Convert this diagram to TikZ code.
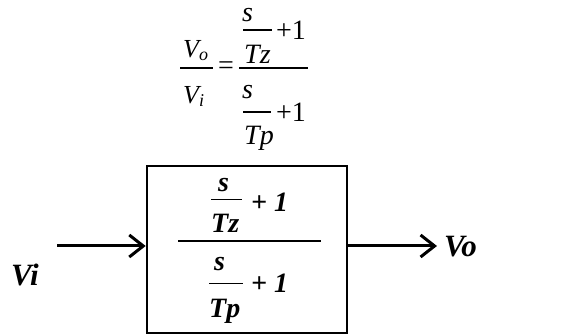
\documentclass[tikz,border=0pt]{standalone}
\usepackage{fontspec}
\setmainfont{Liberation Serif}
\usetikzlibrary{arrows.meta}
\begin{document}
\begin{tikzpicture}[x=1pt,y=-1pt,
  eqv/.style={inner sep=0pt, anchor=base west, font=\fontsize{26}{28}\selectfont\itshape},
  eqt/.style={inner sep=0pt, anchor=base west, font=\fontsize{28}{30}\selectfont\itshape},
  eqn/.style={inner sep=0pt, anchor=base west, font=\fontsize{28}{30}\selectfont},
  bt/.style={inner sep=0pt, anchor=base west, font=\fontsize{28}{30}\selectfont\bfseries\itshape},
  lt/.style={inner sep=0pt, anchor=base west, font=\fontsize{31}{33}\selectfont\bfseries\itshape},
  bar/.style={line width=1.1pt},
  sbar/.style={line width=1pt},
  mbar/.style={line width=1.8pt},
  arr/.style={line width=3pt, -{Straight Barb[length=14pt,width=22pt]}},
  blkstyle/.style={draw, line width=2.6pt, minimum width=200pt, minimum height=167pt, inner sep=0pt}]
\useasboundingbox (0,0) rectangle (574,336);
% top equation
\node[eqv] (vo) at (183,58) {V\raisebox{-3pt}{\fontsize{18}{18}\selectfont o}};
\node[eqv] (vi) at (183,104) {V\raisebox{-3pt}{\fontsize{18}{18}\selectfont i}};
\draw[bar] (180,68) -- (213,68);
\node[eqn, anchor=center] (eq) at (226,68) {=};
\draw[bar] (239,68) -- (308,68);
\node[eqt] (s1) at (242,22) {s};
\draw[bar] (243,30) -- (272,30);
\node[eqn] (p1) at (276,40) {+1};
\node[eqt] (tz) at (244,64) {Tz};
\node[eqt] (s2) at (242,99) {s};
\draw[bar] (243,112) -- (271,112);
\node[eqn] (p2) at (276,122) {+1};
\node[eqt] (tp) at (244,145) {Tp};
% block
\node[blkstyle] (blk) at (247,249.5) {};
\node[bt] (bs1) at (218,192) {s};
\draw[sbar] (211,200) -- (242,200);
\node[bt] (bp1) at (251,212) {+ 1};
\node[bt] (btz) at (211,233) {Tz};
\draw[mbar] (178,241) -- (321,241);
\node[bt] (bs2) at (214,271) {s};
\draw[sbar] (209,284) -- (243,284);
\node[bt] (bp2) at (251,293) {+ 1};
\node[bt] (btp) at (209,318) {Tp};
% signals
\node[lt] (lvi) at (11,286) {Vi};
\node[lt] (lvo) at (444,257) {Vo};
\coordinate (vin) at (57,246);
\coordinate (vout) at (437,246);
\draw[arr] (vin) -- (vin -| blk.west);
\draw[arr] (vin -| blk.east) -- (vout);
\end{tikzpicture}
\end{document}
